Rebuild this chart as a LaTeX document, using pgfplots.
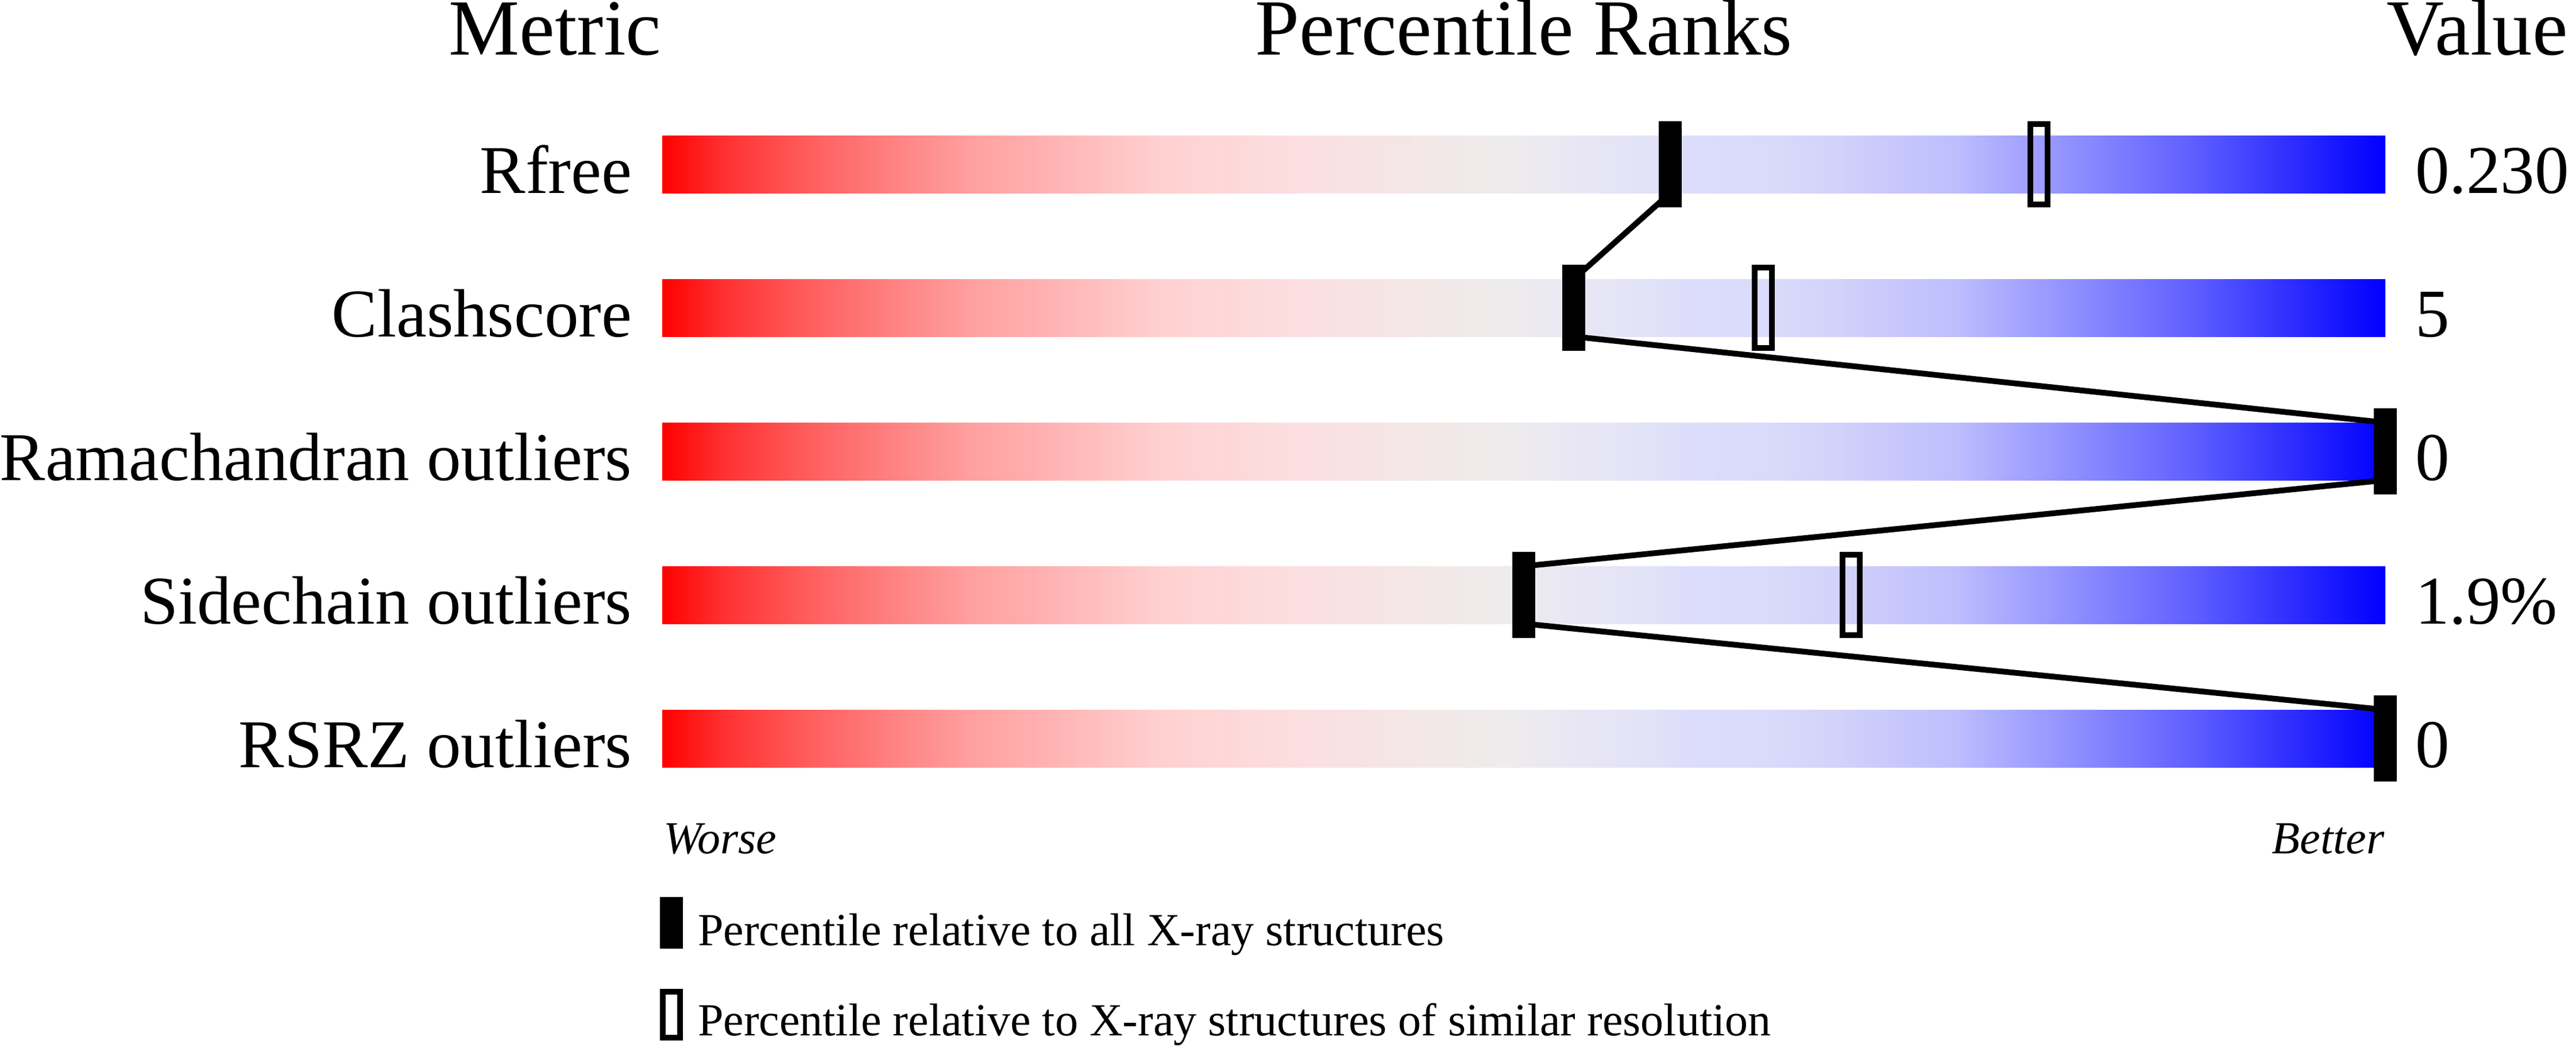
\documentclass[border=0pt]{standalone}
\usepackage{fontspec}
\setmainfont{Liberation Serif}
\usepackage{pgfplots}
\pgfplotsset{compat=1.18}

% wwPDB slider gradient (percentile p mapped to 25bp + p/2)
\pgfdeclarehorizontalshading{wwpdb}{100bp}{%
rgb(0bp)=(1,0,0);
rgb(25bp)=(1,0,0);
rgb(26.75bp)=(1,.188,.188);
rgb(29.4bp)=(1,.376,.376);
rgb(31.6bp)=(1,.502,.502);
rgb(34bp)=(1,.627,.627);
rgb(36.9bp)=(1,.722,.722);
rgb(39.45bp)=(1,.816,.816);
rgb(43.25bp)=(.988,.871,.878);
rgb(46.5bp)=(.957,.902,.902);
rgb(49.45bp)=(.933,.925,.925);
rgb(51.75bp)=(.91,.902,.957);
rgb(53bp)=(.894,.894,.965);
rgb(55bp)=(.863,.863,.988);
rgb(57bp)=(.855,.855,.988);
rgb(58.8bp)=(.831,.831,.98);
rgb(60.7bp)=(.784,.784,.988);
rgb(62.5bp)=(.745,.745,1);
rgb(63.5bp)=(.69,.69,1);
rgb(65bp)=(.612,.612,1);
rgb(67bp)=(.502,.502,1);
rgb(69.35bp)=(.376,.376,1);
rgb(71.65bp)=(.22,.22,1);
rgb(74bp)=(.063,.063,1);
rgb(75bp)=(0,0,1);
rgb(100bp)=(0,0,1)}

\pgfdeclareplotmark{pcall}{\pgfpathrectangle{\pgfpoint{-2pt}{-7.5pt}}{\pgfpoint{4pt}{15pt}}\pgfusepathqfill}
\pgfdeclareplotmark{pcsim}{\pgfpathrectangle{\pgfpoint{-1.5pt}{-7pt}}{\pgfpoint{3pt}{14pt}}\pgfusepathqstroke}
\pgfdeclareplotmark{legall}{\pgfpathrectangle{\pgfpoint{-2pt}{-4.5pt}}{\pgfpoint{4pt}{9pt}}\pgfusepathqfill}
\pgfdeclareplotmark{legsim}{\pgfpathrectangle{\pgfpoint{-1.5pt}{-4pt}}{\pgfpoint{3pt}{8pt}}\pgfusepathqstroke}

\newcommand{\hdr}{\fontsize{13.85pt}{16pt}\selectfont}
\newcommand{\lbl}{\fontsize{11.9pt}{14pt}\selectfont}
\newcommand{\sml}{\fontsize{8pt}{10pt}\selectfont}

\begin{document}
\begin{tikzpicture}
\begin{axis}[hide axis, scale only axis, width=448.5pt, height=182.4pt,
  xmin=-38.4333, xmax=111.0667, ymin=0, ymax=1824, y dir=reverse, clip=false]

% gradient sliders (x = percentile 0..100)
\addplot[shade, shading=wwpdb, draw=none] coordinates {(0,236) (100,236) (100,336) (0,336)};
\addplot[shade, shading=wwpdb, draw=none] coordinates {(0,486) (100,486) (100,586) (0,586)};
\addplot[shade, shading=wwpdb, draw=none] coordinates {(0,736) (100,736) (100,836) (0,836)};
\addplot[shade, shading=wwpdb, draw=none] coordinates {(0,986) (100,986) (100,1086) (0,1086)};
\addplot[shade, shading=wwpdb, draw=none] coordinates {(0,1236) (100,1236) (100,1336) (0,1336)};

% line joining the percentiles relative to all X-ray structures
\addplot[black, line width=1pt, line join=round] coordinates {
 (58.5,336) (52.9,486) (52.9,586) (100,736) (100,836) (50.0,986) (50.0,1086) (100,1236)};

% percentile relative to structures of similar resolution
\addplot[only marks, mark=pcsim, mark options={draw=black, line width=1pt}] coordinates {
 (79.9,286) (63.9,536) (100,786) (69.0,1036) (100,1286)};
% percentile relative to all X-ray structures
\addplot[only marks, mark=pcall, mark options={fill=black, draw=none}] coordinates {
 (58.5,286) (52.9,536) (100,786) (50.0,1036) (100,1286)};

% legend marks
\addplot[only marks, mark=legall, mark options={fill=black, draw=none}] coordinates {(0.52,1606.5)};
\addplot[only marks, mark=legsim, mark options={draw=black, line width=1pt}] coordinates {(0.52,1767)};

% headers
\node[anchor=base east, inner sep=0pt, font=\hdr] at (axis cs:0,95) {Metric};
\node[anchor=base, inner sep=0pt, font=\hdr] at (axis cs:50,95) {Percentile Ranks};
\node[anchor=base west, inner sep=0pt, font=\hdr] at (axis cs:100,95) {Value};

% row labels
\node[anchor=base east, inner sep=0pt, font=\lbl] at (axis cs:-1.7,336) {Rfree};
\node[anchor=base east, inner sep=0pt, font=\lbl] at (axis cs:-1.7,586) {Clashscore};
\node[anchor=base east, inner sep=0pt, font=\lbl] at (axis cs:-1.7,836) {Ramachandran outliers};
\node[anchor=base east, inner sep=0pt, font=\lbl] at (axis cs:-1.7,1086) {Sidechain outliers};
\node[anchor=base east, inner sep=0pt, font=\lbl] at (axis cs:-1.7,1336) {RSRZ outliers};

% values
\node[anchor=base west, inner sep=0pt, font=\lbl] at (axis cs:101.67,336) {0.230};
\node[anchor=base west, inner sep=0pt, font=\lbl] at (axis cs:101.67,586) {5};
\node[anchor=base west, inner sep=0pt, font=\lbl] at (axis cs:101.67,836) {0};
\node[anchor=base west, inner sep=0pt, font=\lbl] at (axis cs:101.67,1086) {1.9\%};
\node[anchor=base west, inner sep=0pt, font=\lbl] at (axis cs:101.67,1336) {0};

% worse / better
\node[anchor=base west, inner sep=0pt, font=\sml\itshape] at (axis cs:0,1486) {Worse};
\node[anchor=base east, inner sep=0pt, font=\sml\itshape] at (axis cs:100,1486) {Better};

% legend text
\node[anchor=base west, inner sep=0pt, font=\sml] at (axis cs:2.0,1646) {Percentile relative to all X-ray structures};
\node[anchor=base west, inner sep=0pt, font=\sml] at (axis cs:2.0,1803) {Percentile relative to X-ray structures of similar resolution};

\coordinate (BL) at (axis cs:-38.4333,1824);
\coordinate (TR) at (axis cs:111.0667,0);
\end{axis}
\pgfresetboundingbox
\useasboundingbox (BL) rectangle (TR);
\end{tikzpicture}
\end{document}
